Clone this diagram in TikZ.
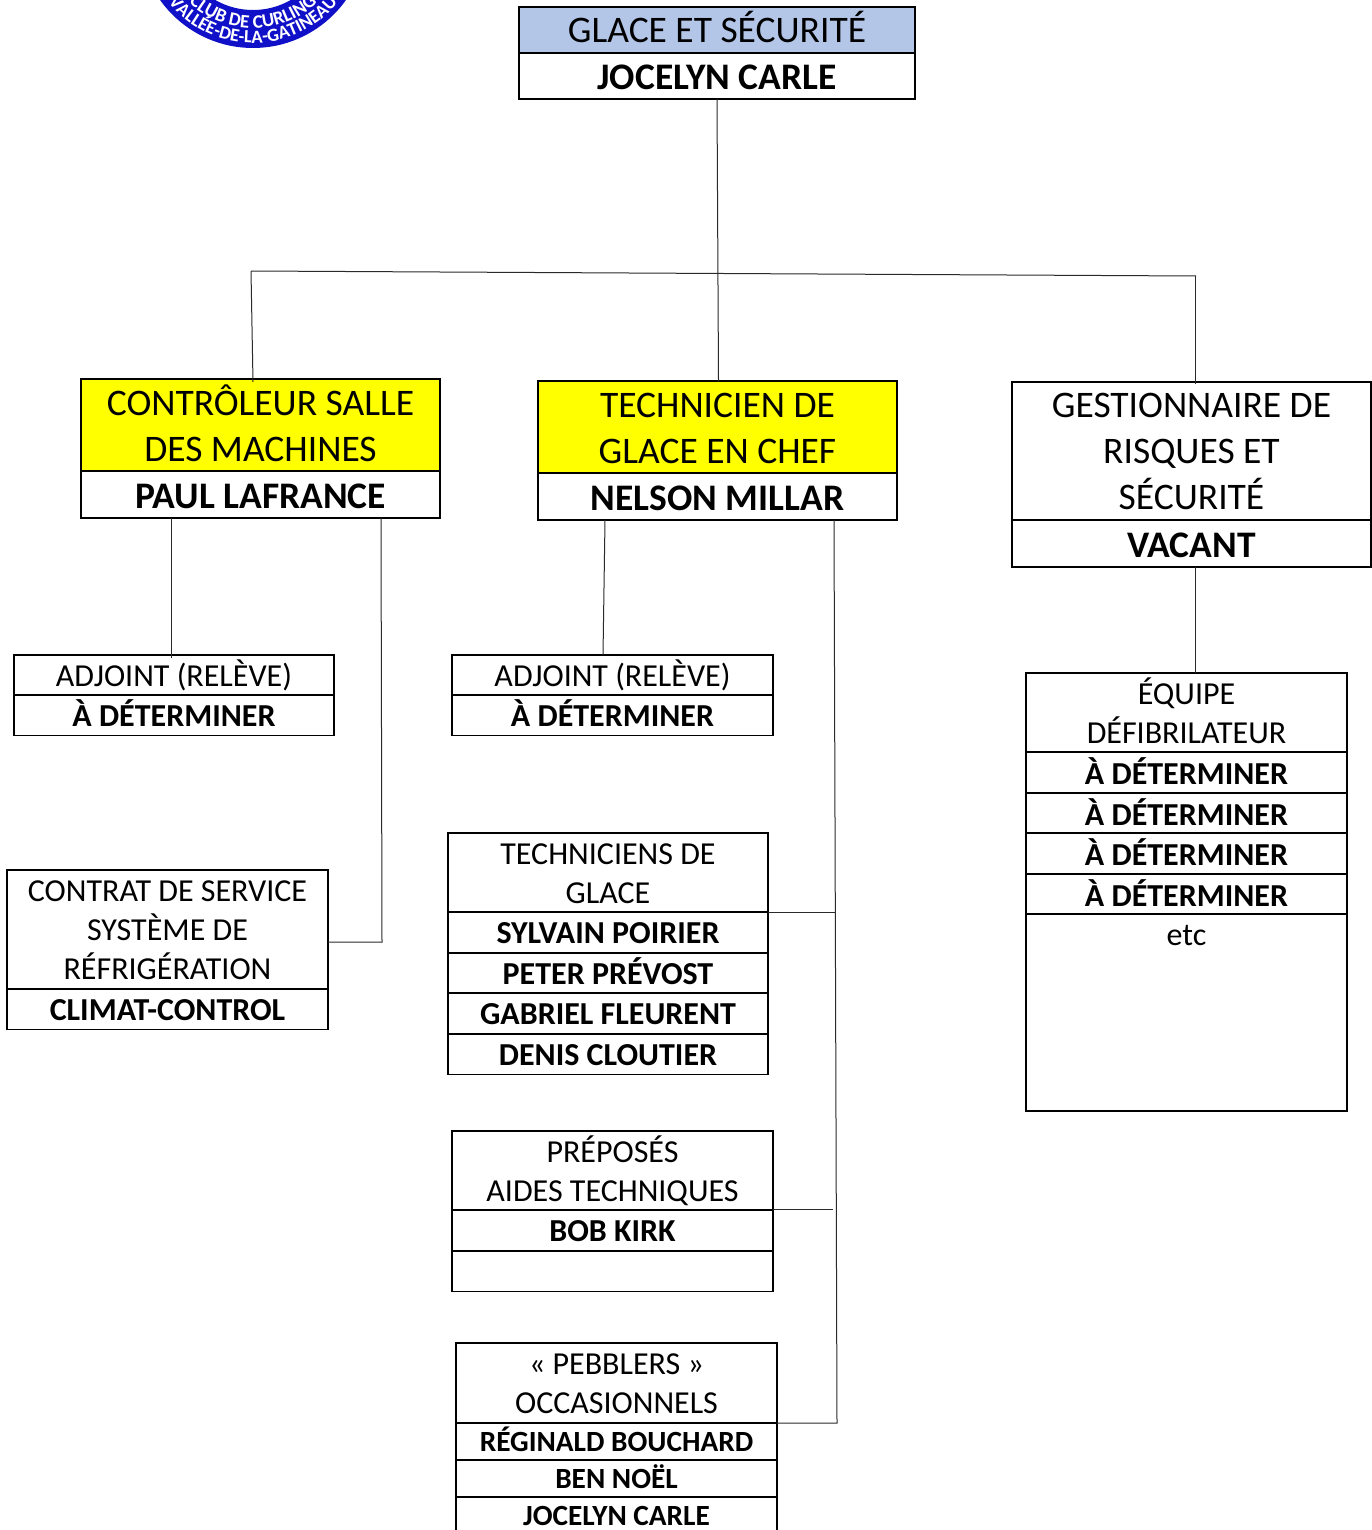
\documentclass[tikz,border=0pt]{standalone}
\usepackage{fontspec}
\setmainfont{Carlito}
\usetikzlibrary{decorations.text}
\definecolor{headblue}{HTML}{B4C6E7}
\definecolor{headyellow}{RGB}{255,255,0}
\definecolor{logoblue}{HTML}{1010C8}
\definecolor{linkgray}{HTML}{2A2A2A}
\tikzset{
  rowbox/.style={draw=black,line width=1.8pt,anchor=north west,inner sep=0pt,outer sep=0pt,align=center,text=black,text depth=0pt},
  bigtitle/.style={rowbox,minimum width=359pt,font=\fontsize{37.5}{46}\selectfont},
  bigname/.style={rowbox,minimum width=359pt,minimum height=47pt,text height=28pt,font=\fontsize{37.5}{46}\selectfont\bfseries},
  smalltitle/.style={rowbox,minimum width=321pt,font=\fontsize{32}{39}\selectfont},
  smallname/.style={rowbox,minimum width=321pt,minimum height=40.5pt,text height=22.5pt,font=\fontsize{32}{39}\selectfont\bfseries},
  defibname/.style={smallname,text height=25pt},
  pebblername/.style={smallname,minimum height=37pt,text height=19pt,font=\fontsize{29.3}{36}\selectfont\bfseries},
  link/.style={draw=linkgray,line width=1pt},
}
\begin{document}
\begin{tikzpicture}[x=1pt,y=-1pt]
\useasboundingbox (0,0) rectangle (1372,1530);
\clip (0,0) rectangle (1372,1530);
% logo, cut by the page
\coordinate (logoc) at (253,-66);
\fill[logoblue,even odd rule] (logoc) circle[radius=114pt] (logoc) circle[radius=76pt];
\path[decorate,decoration={text along path,text align=center,text color=white,
  text={|\fontsize{18.5}{18.5}\selectfont\bfseries|VALLÉE-DE-LA-GATINEAU}}]
  ([shift={(200:109pt)}]logoc) arc[start angle=200,end angle=340,radius=109pt];
\path[decorate,decoration={text along path,text align=center,text color=white,
  text={|\fontsize{19}{19}\selectfont\bfseries|CLUB DE CURLING}}]
  ([shift={(200:94pt)}]logoc) arc[start angle=200,end angle=340,radius=94pt];
% top box
\node[bigtitle,minimum width=396pt,minimum height=46pt,text height=26pt,fill=headblue] (glacehead) at (519,7) {GLACE ET SÉCURITÉ};
\node[bigname,minimum width=396pt,minimum height=46pt] (glacename) at (519,53) {JOCELYN CARLE};
% second level
\node[bigtitle,minimum height=92pt,text height=72pt,fill=headyellow] (machinehead) at (81,379) {CONTRÔLEUR SALLE\\DES MACHINES};
\node[bigname] (machinename) at (81,471) {PAUL LAFRANCE};
\node[bigtitle,minimum height=92pt,text height=72pt,fill=headyellow] (chefhead) at (538,381) {TECHNICIEN DE\\GLACE EN CHEF};
\node[bigname] (chefname) at (538,473) {NELSON MILLAR};
\node[bigtitle,minimum height=138pt,text height=116pt] (risquehead) at (1012,382) {GESTIONNAIRE DE\\RISQUES ET\\SÉCURITÉ};
\node[bigname] (risquename) at (1012,520) {VACANT};
% left column
\node[smalltitle,minimum width=320pt,minimum height=40pt,text height=22.5pt] (adjleft) at (14,655) {ADJOINT (RELÈVE)};
\node[smallname,minimum width=320pt] (adjleftname) at (14,695) {À DÉTERMINER};
\node[smalltitle,minimum height=119pt,text height=99pt] (contrat) at (7,870) {CONTRAT DE SERVICE\\SYSTÈME DE\\RÉFRIGÉRATION};
\node[smallname] (contratname) at (7,989) {CLIMAT-CONTROL};
% middle column
\node[smalltitle,minimum height=40pt,text height=22.5pt] (adjmid) at (452,655) {ADJOINT (RELÈVE)};
\node[smallname] (adjmidname) at (452,695) {À DÉTERMINER};
\node[smalltitle,minimum width=320pt,minimum height=79pt,text height=61pt] (techs) at (448,833) {TECHNICIENS DE\\GLACE};
\node[smallname,minimum width=320pt] (techa) at (448,912) {SYLVAIN POIRIER};
\node[smallname,minimum width=320pt] (techb) at (448,953) {PETER PRÉVOST};
\node[smallname,minimum width=320pt] (techc) at (448,993) {GABRIEL FLEURENT};
\node[smallname,minimum width=320pt] (techd) at (448,1034) {DENIS CLOUTIER};
\node[smalltitle,minimum height=79pt,text height=61pt] (aides) at (452,1131) {PRÉPOSÉS\\AIDES TECHNIQUES};
\node[smallname] (aidea) at (452,1210) {BOB KIRK};
\node[smallname] (aideb) at (452,1251) {};
\node[smalltitle,minimum height=80pt,text height=60pt] (pebbler) at (456,1343) {« PEBBLERS »\\OCCASIONNELS};
\node[pebblername] (pebblera) at (456,1423) {RÉGINALD BOUCHARD};
\node[pebblername] (pebblerb) at (456,1460) {BEN NOËL};
\node[pebblername] (pebblerc) at (456,1497) {JOCELYN CARLE};
% right column
\node[smalltitle,minimum height=79pt,text height=61pt] (defib) at (1026,673) {ÉQUIPE\\DÉFIBRILATEUR};
\node[defibname] (defiba) at (1026,752) {À DÉTERMINER};
\node[defibname] (defibb) at (1026,793) {À DÉTERMINER};
\node[defibname] (defibc) at (1026,833) {À DÉTERMINER};
\node[defibname] (defibd) at (1026,874) {À DÉTERMINER};
\node[smalltitle,minimum height=197pt,text depth=155pt] (defibe) at (1026,914) {etc};
% links
\coordinate (busleft) at (251,271);
\coordinate (busright) at (1196,276);
\coordinate (machinedrop) at (382,942);
\coordinate (chefdrop) at (837,1423);
\draw[link] (busleft) -- (busright);
\draw[link] (glacename.south) -- ([xshift=1pt]chefhead.north);
\draw[link] (busleft) -- ([xshift=-7.5pt,yshift=-3pt]machinehead.north);
\draw[link] ([xshift=-1pt]busright) -- ([xshift=3.5pt,yshift=-2pt]risquehead.north);
\draw[link] ([xshift=-89.5pt]machinename.south) -- ([xshift=-3pt,yshift=-3pt]adjleft.north);
\draw[link] ([xshift=120.5pt]machinename.south) -- (machinedrop) -- (contrat.east |- machinedrop);
\draw[link] ([xshift=-112.5pt]chefname.south) -- ([xshift=-9.5pt]adjmid.north);
\draw[link] ([xshift=116.5pt]chefname.south) -- (chefdrop) -- (pebbler.south east);
\draw[link] (techs.south east) -- ++(67,0);
\draw[link] ([yshift=1pt]aides.south east) -- ++(60,0);
\draw[link] ([xshift=3.5pt]risquename.south) -- ([xshift=8.5pt]defib.north);
\end{tikzpicture}
\end{document}
